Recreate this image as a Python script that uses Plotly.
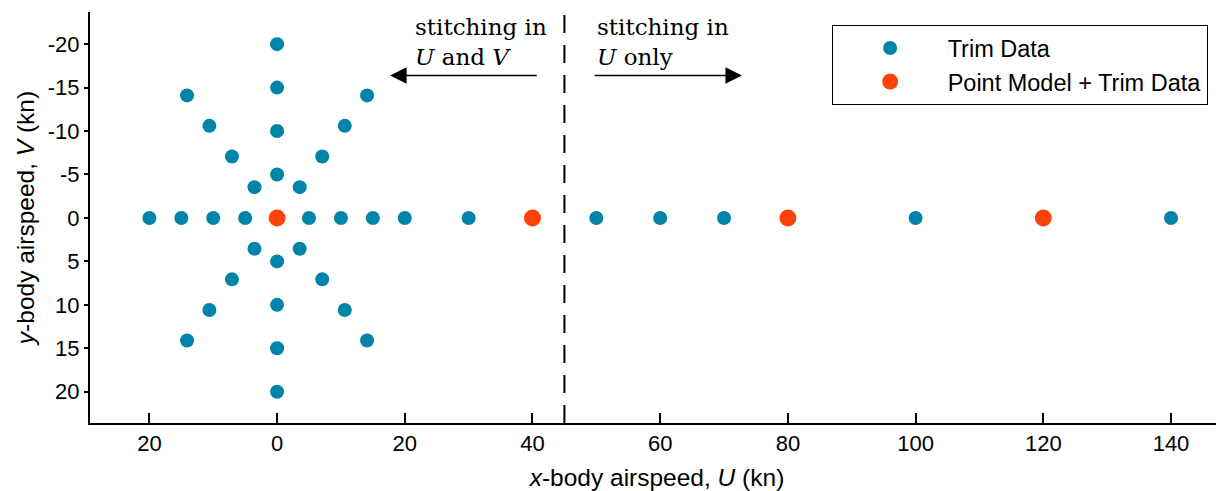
import plotly.graph_objects as go

# ---- data ----
trim_u = [-20, -15, -10, -5, 5, 10, 15, 20, 30, 50, 60, 70, 100, 140,
          0, 0, 0, 0, 0, 0, 0, 0,
          -3.54, 3.54, -3.54, 3.54,
          -7.07, 7.07, -7.07, 7.07,
          -10.6, 10.6, -10.6, 10.6,
          -14.1, 14.1, -14.1, 14.1]
trim_v = [0, 0, 0, 0, 0, 0, 0, 0, 0, 0, 0, 0, 0, 0,
          -20, -15, -10, -5, 5, 10, 15, 20,
          -3.54, -3.54, 3.54, 3.54,
          -7.07, -7.07, 7.07, 7.07,
          -10.6, -10.6, 10.6, 10.6,
          -14.1, -14.1, 14.1, 14.1]
point_u = [0, 40, 80, 120]
point_v = [0, 0, 0, 0]

x_tickvals = [-20, 0, 20, 40, 60, 80, 100, 120, 140]
x_ticktext = ["20", "0", "20", "40", "60", "80", "100", "120", "140"]
y_tickvals = [-20, -15, -10, -5, 0, 5, 10, 15, 20]
y_ticktext = ["-20", "-15", "-10", "-5", "0", "5", "10", "15", "20"]

boundary_u = 45

BLUE = "#0083a9"
RED = "#ff4208"
SANS = "Liberation Sans, Arial, sans-serif"
SERIF = "DejaVu Serif, serif"

fig = go.Figure()
fig.add_trace(go.Scatter(x=trim_u, y=trim_v, mode="markers", name="Trim Data",
                         marker=dict(color=BLUE, size=14, line=dict(width=0))))
fig.add_trace(go.Scatter(x=point_u, y=point_v, mode="markers", name="Point Model + Trim Data",
                         marker=dict(color=RED, size=17, line=dict(width=0))))

# dashed boundary
fig.add_shape(type="line", xref="x", yref="paper", x0=boundary_u, x1=boundary_u, y0=0, y1=1,
              line=dict(color="black", width=2, dash="18px,12px"))

# arrows
fig.add_annotation(x=17.7, y=-16.4, ax=40.9, ay=-16.4, xref="x", yref="y", axref="x", ayref="y",
                   text="", showarrow=True, arrowhead=2, arrowsize=2.2, arrowwidth=1.5, arrowcolor="black")
fig.add_annotation(x=72.8, y=-16.4, ax=49.5, ay=-16.4, xref="x", yref="y", axref="x", ayref="y",
                   text="", showarrow=True, arrowhead=2, arrowsize=2.2, arrowwidth=1.5, arrowcolor="black")

# texts
fig.add_annotation(x=21.3, y=-23.7, xref="x", yref="y", xanchor="left", yanchor="top",
                   text="stitching in<br><i>U</i> and <i>V</i>", showarrow=False, align="left",
                   font=dict(family=SERIF, size=23, color="black"))
fig.add_annotation(x=49.8, y=-23.7, xref="x", yref="y", xanchor="left", yanchor="top",
                   text="stitching in<br><i>U</i> only", showarrow=False, align="left",
                   font=dict(family=SERIF, size=23, color="black"))

fig.update_layout(
    width=1216, height=483,
    margin=dict(l=82, r=0, t=4, b=68, autoexpand=False),
    paper_bgcolor="white", plot_bgcolor="white",
    font=dict(family=SANS, size=22, color="black"),
    showlegend=True,
    legend=dict(x=0.654, y=0.968, xanchor="left", yanchor="top",
                bordercolor="black", borderwidth=1, bgcolor="white",
                font=dict(family=SANS, size=23.5, color="black"),
                itemwidth=105),
    xaxis=dict(range=[-29.3, 148.3], tickvals=x_tickvals, ticktext=x_ticktext, automargin=False,
               showgrid=False, zeroline=False, showline=True, linecolor="black", linewidth=2,
               ticks="inside", ticklen=10, tickwidth=2, tickcolor="black",
               title=dict(text="<i>x</i>-body airspeed, <i>U</i> (kn)", standoff=14,
                          font=dict(family=SANS, size=24.5))),
    yaxis=dict(range=[23.6, -23.7], tickvals=y_tickvals, ticktext=y_ticktext, automargin=False,
               showgrid=False, zeroline=False, showline=True, linecolor="black", linewidth=2,
               ticks="outside", ticklen=4, tickwidth=1.5, tickcolor="black",
               title=dict(text="<i>y</i>-body airspeed, <i>V</i> (kn)", standoff=6,
                          font=dict(family=SANS, size=24.5))),
)

fig.write_html("out.html")
